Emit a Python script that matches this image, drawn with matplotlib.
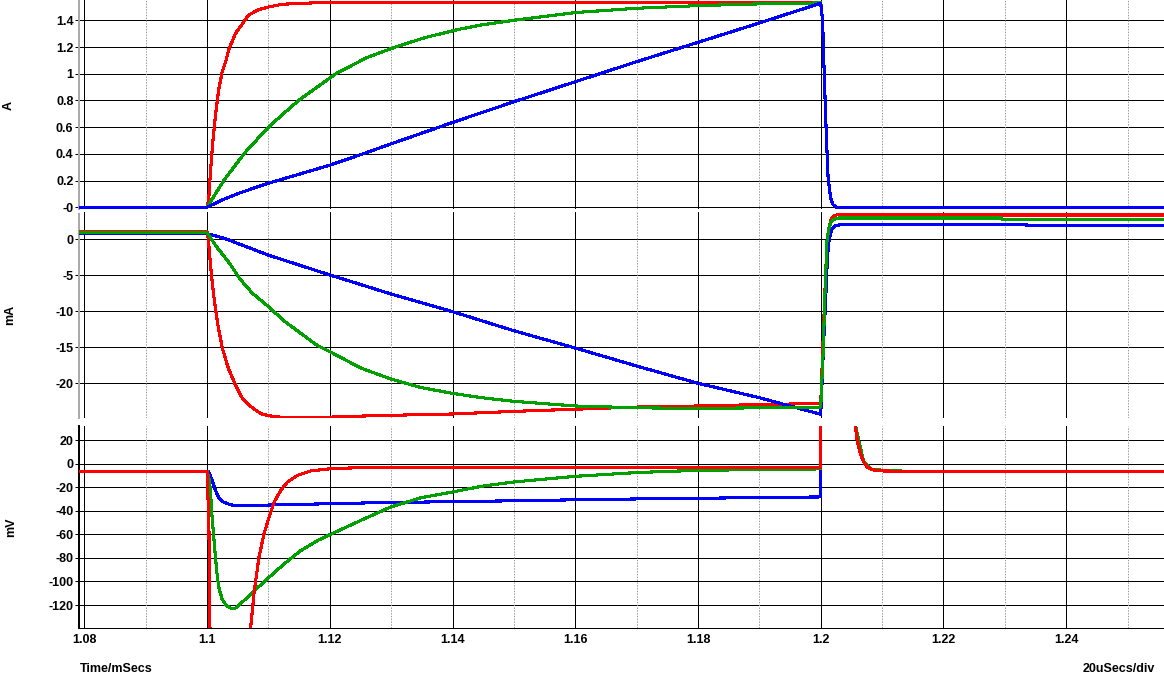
"""Three stacked transient traces (A / mA / mV) around a 100 us pulse."""

import matplotlib

matplotlib.use("Agg")
import matplotlib.pyplot as plt

# --- top panel: current in A -------------------------------------------------
amp_red_t = [1.079, 1.1, 1.10027, 1.10054, 1.10092, 1.10136, 1.1019, 1.10245, 1.1031,
             1.10353, 1.10462, 1.10571, 1.10679, 1.10842, 1.11005, 1.11223, 1.1144,
             1.1171, 1.13, 1.15, 1.18, 1.2, 1.2003, 1.2006, 1.2009, 1.2012, 1.2016,
             1.202, 1.2025, 1.256]
amp_red = [0, 0, 0.055, 0.25, 0.48, 0.68, 0.88, 1.01, 1.10, 1.18, 1.30, 1.37, 1.44, 1.48,
           1.50, 1.52, 1.525, 1.53, 1.533, 1.533, 1.533, 1.53, 1.40, 0.95, 0.55, 0.22,
           0.07, 0.02, 0, 0]

amp_green_t = [1.079, 1.1, 1.1028, 1.1061, 1.11, 1.1149, 1.121, 1.126, 1.1307, 1.1355,
               1.1408, 1.14476, 1.15, 1.16, 1.17, 1.18, 1.19, 1.2, 1.2003, 1.2006, 1.2009,
               1.2012, 1.2016, 1.202, 1.2025, 1.256]
amp_green = [0, 0, 0.205, 0.405, 0.60, 0.80, 1.0, 1.12, 1.20, 1.27, 1.33, 1.366, 1.40,
             1.458, 1.49, 1.51, 1.523, 1.53, 1.40, 0.95, 0.55, 0.22, 0.07, 0.02, 0, 0]

amp_blue_t = [1.079, 1.1, 1.10245, 1.10516, 1.11, 1.12, 1.1251, 1.13, 1.14, 1.15, 1.16,
              1.17, 1.18, 1.19, 1.2, 1.2003, 1.2006, 1.2009, 1.2012, 1.2016, 1.202, 1.2025,
              1.256]
amp_blue = [0, 0, 0.055, 0.105, 0.18, 0.315, 0.395, 0.475, 0.635, 0.79, 0.94, 1.09,
            1.235, 1.38, 1.528, 1.40, 0.95, 0.55, 0.22, 0.07, 0.02, 0, 0]

# --- middle panel: current in mA ---------------------------------------------
ma_red_t = [1.079, 1.1, 1.1002, 1.10052, 1.10085, 1.10118, 1.10151, 1.10183, 1.10249,
            1.10347, 1.10478, 1.10577, 1.10708, 1.10872, 1.11, 1.11199, 1.12, 1.12706,
            1.14, 1.15, 1.16, 1.17, 1.18, 1.19, 1.2, 1.20044, 1.20071, 1.20098, 1.20126,
            1.20169, 1.20235, 1.20317, 1.2256, 1.2257, 1.256]
ma_red = [1.05, 1.05, 0.1, -3.1, -6.0, -8.4, -10.4, -12.2, -15.1, -17.9, -20.5, -22.1,
          -23.2, -24.2, -24.5, -24.7, -24.7, -24.5, -24.26, -23.9, -23.6, -23.3, -23.15,
          -22.96, -22.8, -12.6, -6.6, -1.25, 1.3, 2.8, 3.33, 3.5, 3.5, 3.37, 3.37]

ma_green_t = [1.079, 1.1, 1.10151, 1.10347, 1.10544, 1.1074, 1.11, 1.11265, 1.11527,
              1.11789, 1.12, 1.1251, 1.12995, 1.13493, 1.14, 1.14476, 1.15, 1.16, 1.17,
              1.18, 1.19, 1.2, 1.20016, 1.20044, 1.2006, 1.20082, 1.20098, 1.20126,
              1.20169, 1.20235, 1.2029, 1.2294, 1.2295, 1.256]
ma_green = [0.92, 0.92, -1.0, -3.1, -5.6, -7.5, -9.35, -11.4, -13.05, -14.7, -15.6, -17.9,
            -19.4, -20.6, -21.4, -22.0, -22.5, -23.15, -23.4, -23.5, -23.4, -23.3, -20.0,
            -14.9, -9.4, -4.7, -0.55, 1.3, 2.45, 2.87, 2.96, 2.96, 2.8, 2.8]

ma_blue_t = [1.079, 1.1, 1.10282, 1.11, 1.12, 1.13, 1.14, 1.15, 1.16, 1.17, 1.18, 1.19,
             1.1952, 1.2, 1.20016, 1.20049, 1.20082, 1.20109, 1.20137, 1.2018, 1.20235,
             1.20344, 1.2335, 1.2336, 1.256]
ma_blue = [0.78, 0.78, 0.14, -2.2, -4.95, -7.6, -10.05, -12.7, -15.1, -17.6, -20.0, -22.0,
           -23.2, -24.3, -20.9, -14.0, -8.0, -2.4, -0.1, 1.4, 1.9, 2.04, 2.04, 1.9, 1.9]

# --- bottom panel: voltage in mV ---------------------------------------------
mv_red_t = [1.079, 1.1, 1.1003, 1.1005, 1.101, 1.103, 1.105, 1.1071, 1.1077, 1.10847,
            1.10929, 1.11011, 1.11093, 1.11202, 1.11311, 1.11475, 1.11694, 1.12022, 1.1235,
            1.2, 1.2002, 1.204, 1.205, 1.20563, 1.2059, 1.20617, 1.20656, 1.207, 1.20754,
            1.20836, 1.20945, 1.21383, 1.256]
mv_red = [-6.5, -6.5, -50, -150, -220, -280, -230, -140, -107.8, -79.4, -59.6, -45.4,
          -32.6, -22.7, -15.6, -9.9, -6.2, -4.3, -3.7, -3.7, 400, 120, 60, 32.6, 21.3,
          14.2, 7.1, 1.4, -2.8, -5.1, -6.2, -6.5, -6.5]

mv_green_t = [1.079, 1.1, 1.10027, 1.10055, 1.10082, 1.10109, 1.10137, 1.10164, 1.10191,
              1.10246, 1.10317, 1.10383, 1.10464, 1.10546, 1.10656, 1.1082, 1.11011,
              1.11257, 1.1153, 1.11803, 1.12011, 1.1251, 1.12995, 1.13493, 1.14, 1.14476,
              1.15, 1.16, 1.17, 1.18, 1.19, 1.2, 1.2002, 1.204, 1.205, 1.20563, 1.207,
              1.20836, 1.21383, 1.256]
mv_green = [-6.5, -6.5, -11, -22.7, -45, -62, -79, -94, -105, -115, -120.6, -122.6,
            -122.6, -119, -113.5, -105.5, -96.5, -85, -73.8, -65.2, -60.1, -48.1, -36.8,
            -28.9, -24.1, -19.2, -15.6, -10.8, -7.6, -5.7, -5.1, -4.5, 400, 120, 60, 32.6,
            1.4, -5.1, -6.5, -6.5]

mv_blue_t = [1.079, 1.1, 1.10027, 1.10082, 1.10137, 1.10191, 1.10246, 1.10328, 1.1041,
             1.1071, 1.11592, 1.12575, 1.1369, 1.148, 1.15917, 1.17, 1.1808, 1.19325, 1.2,
             1.2002, 1.204, 1.205, 1.20563, 1.207, 1.20836, 1.21383, 1.256]
mv_blue = [-6.5, -6.5, -7, -14.2, -22.7, -28.9, -32, -34, -35.2, -35.5, -34.5, -33.4,
           -32.5, -31.7, -30.8, -30.0, -29.4, -28.6, -28.3, 400, 120, 60, 32.6, 1.4, -5.1,
           -6.5, -6.5]

# axis ticks
x_major = [1.08, 1.1, 1.12, 1.14, 1.16, 1.18, 1.2, 1.22, 1.24]
x_major_labels = ["1.08", "1.1", "1.12", "1.14", "1.16", "1.18", "1.2", "1.22", "1.24"]
x_minor = [1.09, 1.11, 1.13, 1.15, 1.17, 1.19, 1.21, 1.23, 1.25]
amp_ticks = [0, 0.2, 0.4, 0.6, 0.8, 1.0, 1.2, 1.4]
amp_labels = ["-0", "0.2", "0.4", "0.6", "0.8", "1", "1.2", "1.4"]
ma_ticks = [0, -5, -10, -15, -20]
ma_labels = ["0", "-5", "-10", "-15", "-20"]
mv_ticks = [20, 0, -20, -40, -60, -80, -100, -120]
mv_labels = ["20", "0", "-20", "-40", "-60", "-80", "-100", "-120"]

RED, GREEN, BLUE = "#ff0000", "#00a000", "#0000ff"
GRID_LW = 0.72  # one pixel at 100 dpi
W, H = 1164, 678
XLIM = (1.07914, 1.25593)


def px_axes(fig, y_top, y_bot):
    return fig.add_axes([79 / W, 1 - y_bot / H, (W - 79) / W, (y_bot - y_top) / H])


def style(ax, ticks, labels, ylim, bottom=False):
    ax.set_xlim(*XLIM)
    ax.set_ylim(*ylim)
    ax.set_axisbelow(True)
    for side in ("top", "right"):
        ax.spines[side].set_visible(False)
    if bottom:
        ax.spines["left"].set_color("black")
        ax.spines["left"].set_linewidth(1.4)
        ax.spines["bottom"].set_color("black")
        ax.spines["bottom"].set_linewidth(GRID_LW)
    else:
        ax.spines["bottom"].set_visible(False)
        ax.spines["left"].set_color("#a8a8a8")
        ax.spines["left"].set_linestyle((0, (1, 1)))
        ax.spines["left"].set_linewidth(1.4)
    ax.set_yticks(ticks)
    ax.set_yticklabels(labels)
    ax.set_xticks(x_major)
    ax.set_xticks(x_minor, minor=True)
    ax.tick_params(axis="y", length=3, width=GRID_LW, pad=1, labelsize=9)
    ax.tick_params(axis="x", which="both", length=0, pad=4, labelsize=9)
    if bottom:
        ax.set_xticklabels(x_major_labels)
    else:
        ax.set_xticklabels([])
    for lbl in ax.get_yticklabels() + ax.get_xticklabels():
        lbl.set_fontweight("bold")
    for v in ticks:
        ax.axhline(v, color="black", lw=GRID_LW, zorder=1, antialiased=False)
    for v in x_major:
        ax.axvline(v, color="black", lw=GRID_LW, zorder=1, antialiased=False)
    for v in x_minor:
        ax.axvline(v, color="#9a9a9a", lw=GRID_LW, ls=(0, (1.4, 1.4)), zorder=1)


def trace(ax, t, y, color, z):
    ax.plot(t, y, color=color, lw=1.5, zorder=z, antialiased=False)


def main() -> None:
    plt.rcParams["font.family"] = ["Liberation Sans", "DejaVu Sans"]
    fig = plt.figure(figsize=(W / 100, H / 100), dpi=100)

    ax_a = px_axes(fig, 0, 209)
    style(ax_a, amp_ticks, amp_labels, (-0.013, 1.552))
    trace(ax_a, amp_red_t, amp_red, RED, 3)
    trace(ax_a, amp_green_t, amp_green, GREEN, 4)
    trace(ax_a, amp_blue_t, amp_blue, BLUE, 5)

    ax_ma = px_axes(fig, 212, 418)
    style(ax_ma, ma_ticks, ma_labels, (-24.82, 3.79))
    trace(ax_ma, ma_red_t, ma_red, RED, 3)
    trace(ax_ma, ma_blue_t, ma_blue, BLUE, 4)
    trace(ax_ma, ma_green_t, ma_green, GREEN, 5)

    ax_mv = px_axes(fig, 426, 628)
    style(ax_mv, mv_ticks, mv_labels, (-139.5, 31.9), bottom=True)
    trace(ax_mv, mv_blue_t, mv_blue, BLUE, 3)
    trace(ax_mv, mv_green_t, mv_green, GREEN, 4)
    trace(ax_mv, mv_red_t, mv_red, RED, 5)

    kw = dict(fontsize=9, fontweight="bold", va="center")
    fig.text(9 / W, 1 - 105 / H, "A", rotation=90, ha="center", **kw)
    fig.text(10 / W, 1 - 315 / H, "mA", rotation=90, ha="center", **kw)
    fig.text(11 / W, 1 - 527 / H, "mV", rotation=90, ha="center", **kw)
    fig.text(80 / W, 1 - 669 / H, "Time/mSecs", ha="left", **kw)
    fig.text(1155 / W, 1 - 669 / H, "20uSecs/div", ha="right", **kw)

    fig.savefig("out.png", dpi=100)


if __name__ == "__main__":
    main()
